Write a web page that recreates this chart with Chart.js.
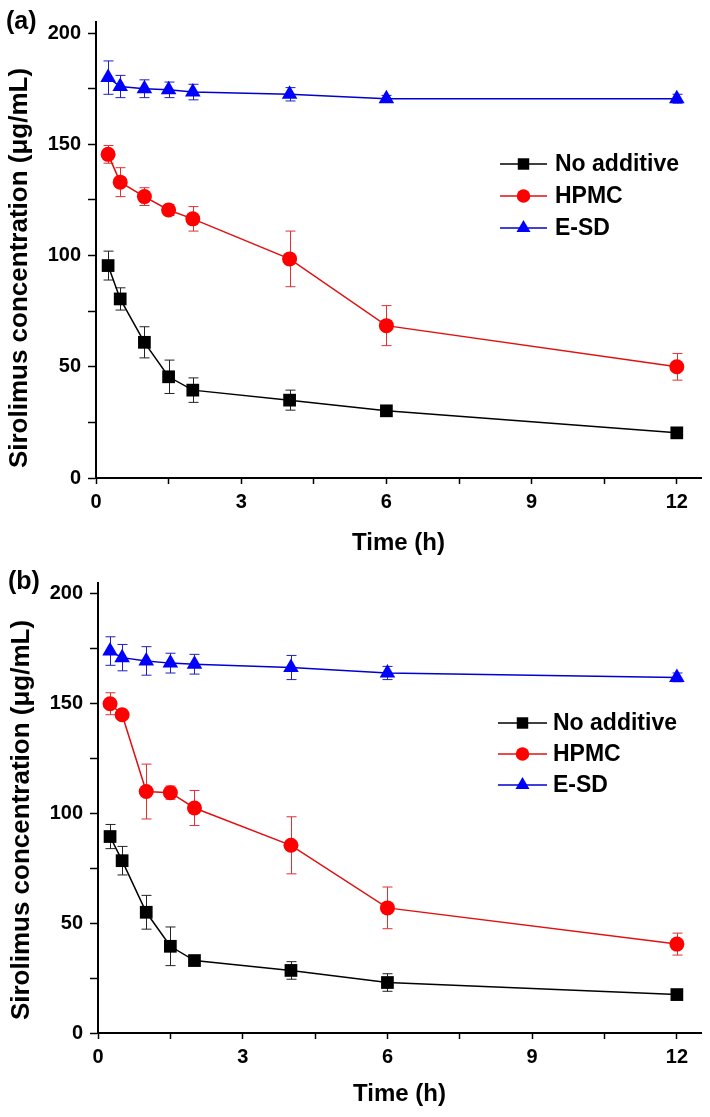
<!DOCTYPE html>
<html>
<head>
<meta charset="utf-8">
<script src="https://cdn.jsdelivr.net/npm/chart.js@4/dist/chart.umd.min.js"></script>
<style>
  html, body { margin:0; padding:0; background:#fff; }
  #wrap { position:relative; width:710px; height:1117px; }
  canvas { position:absolute; left:0; }
  #chartA { top:0; }
  #chartB { top:558px; }
</style>
</head>
<body>
<div id="wrap">
  <canvas id="chartA" width="710" height="558"></canvas>
  <canvas id="chartB" width="710" height="559"></canvas>
</div>
<script>
// sampling times (h)
const times = [0.25, 0.5, 1, 1.5, 2, 4, 6, 12];
const seriesNames = ['No additive', 'HPMC', 'E-SD'];
const xTicks = [0, 3, 6, 9, 12];
const yTicks = [0, 50, 100, 150, 200];

// panel (a)
const noAddA  = [95.5, 80.5, 61, 45.5, 39.5, 35, 30.2, 20.3];
const noAddErrA = [6.5, 5, 7, 7.5, 5.5, 4.5, 2, 1];
const hpmcA   = [145.5, 133, 126.5, 120.5, 116.5, 98.5, 68.5, 50];
const hpmcErrA  = [4, 6.5, 4, 2.5, 5.5, 12.5, 9, 6];
const esdA    = [180, 176, 175, 174.5, 173.5, 172.5, 170.5, 170.5];
const esdErrA   = [7.5, 5, 4, 3.5, 3.5, 3, 1.5, 2];

// panel (b)
const noAddB  = [89.5, 78.5, 55, 39.5, 33, 28.5, 23, 17.5];
const noAddErrB = [5.5, 6.5, 7.7, 8.8, 1.5, 4, 4, 1];
const hpmcB   = [150, 145, 110, 109.5, 102.5, 85.5, 57, 40.5];
const hpmcErrB  = [5, 1, 12.5, 3, 8, 13, 9.5, 5];
const esdB    = [174, 171, 169.5, 168.5, 168, 166.5, 164, 162];
const esdErrB   = [6.5, 6, 6.5, 4.5, 4.5, 5.5, 3, 2];

const FONT = '"Liberation Sans", Arial, sans-serif';
const styles = [
  {color:'#000000', line:'#000000', err:'#222222', point:'rect', radius:9},
  {color:'#ff0000', line:'#e01010', err:'#e03030', point:'circle', radius:7.5},
  {color:'#0000ff', line:'#0000d0', err:'#2020c0', point:'triangle', radius:9}
];

function pts(vals){ return times.map((t,i)=>({x:t, y:vals[i]})); }

// ----- error bars -----
const errorBars = {
  id:'errorBars',
  beforeDatasetsDraw(chart){
    const {ctx, scales:{x, y}} = chart;
    chart.data.datasets.forEach(ds=>{
      ctx.save();
      ctx.strokeStyle = ds.errColor;
      ctx.lineWidth = 1;
      ds.data.forEach((p,j)=>{
        const e = ds.errors[j];
        const px = Math.round(x.getPixelForValue(p.x)) + 0.5;
        const top = y.getPixelForValue(p.y + e);
        const bot = y.getPixelForValue(p.y - e);
        ctx.beginPath();
        ctx.moveTo(px, top); ctx.lineTo(px, bot);
        ctx.moveTo(px-5, top); ctx.lineTo(px+5, top);
        ctx.moveTo(px-5, bot); ctx.lineTo(px+5, bot);
        ctx.stroke();
      });
      ctx.restore();
    });
  }
};

// ----- panel letter, y title, legend -----
const decorations = {
  id:'decorations',
  afterDraw(chart, args, opts){
    const ctx = chart.ctx;
    ctx.save();
    ctx.fillStyle = '#000';
    ctx.font = 'bold 25px ' + FONT;
    ctx.textAlign = 'left';
    ctx.textBaseline = 'middle';
    ctx.fillText(opts.letter, opts.letterX, opts.letterY);

    ctx.save();
    ctx.translate(opts.yTitleX, opts.yTitleY);
    ctx.rotate(-Math.PI/2);
    ctx.textAlign = 'center';
    ctx.font = 'bold 26px ' + FONT;
    ctx.fillText('Sirolimus concentration (\u03bcg/mL)', 0, 0);
    ctx.restore();

    ctx.font = 'bold 23px ' + FONT;
    chart.data.datasets.forEach((ds,i)=>{
      const yy = opts.legY + i*opts.legGap;
      ctx.strokeStyle = ds.borderColor;
      ctx.lineWidth = 1.5;
      ctx.beginPath();
      ctx.moveTo(opts.legX0, yy); ctx.lineTo(opts.legX1, yy);
      ctx.stroke();
      ctx.fillStyle = ds.pointBackgroundColor;
      const mx = (opts.legX0 + opts.legX1)/2;
      if (Chart.helpers && Chart.helpers.drawPoint) {
        Chart.helpers.drawPoint(ctx, {pointStyle:ds.pointStyle, radius:ds.pointRadius*0.9, rotation:0, borderWidth:0}, mx, yy);
      }
      ctx.fillStyle = '#000';
      ctx.fillText(ds.label, opts.legText, yy + 1);
    });
    ctx.restore();
  }
};

function makePanel(id, sets, box){
  const datasets = sets.map((s,i)=>({
    label: seriesNames[i],
    data: pts(s.vals),
    errors: s.errs,
    errColor: styles[i].err,
    borderColor: styles[i].line,
    borderWidth: 1.5,
    pointStyle: styles[i].point,
    pointRadius: styles[i].radius,
    pointBackgroundColor: styles[i].color,
    pointBorderWidth: 0,
    fill: false,
    tension: 0,
    clip: false
  }));
  const axisCommon = {
    border:{display:true, color:'#000', width:2},
    grid:{display:true, drawOnChartArea:false, drawTicks:true, tickColor:'#000', tickWidth:1.5},
    ticks:{color:'#000', font:{family:FONT, size:20, weight:'bold'}, includeBounds:false}
  };
  return new Chart(document.getElementById(id), {
    type:'line',
    data:{datasets},
    options:{
      responsive:false,
      animation:false,
      layout:{padding:{left:0, top:box.top, right:box.right, bottom:0}},
      plugins:{
        legend:{display:false},
        tooltip:{enabled:false},
        decorations: box.deco
      },
      scales:{
        x:{
          type:'linear', min:0, max:12.5,
          border:axisCommon.border,
          grid:Object.assign({}, axisCommon.grid, {tickLength:6}),
          ticks:Object.assign({}, axisCommon.ticks, {
            stepSize:1.5, padding:6, maxRotation:0,
            callback:v=> xTicks.includes(v) ? String(v) : ''
          }),
          title:{display:true, text:'Time (h)', color:'#000',
                 font:{family:FONT, size:24, weight:'bold'},
                 padding:{top:0, bottom:box.xTitlePad}},
          afterFit:s=>{ s.height = box.xHeight; }
        },
        y:{
          type:'linear', min:0, max:205,
          border:axisCommon.border,
          grid:Object.assign({}, axisCommon.grid, {tickLength:8}),
          ticks:Object.assign({}, axisCommon.ticks, {
            stepSize:25, padding:7,
            callback:v=> yTicks.includes(v) ? String(v) : ''
          }),
          afterFit:s=>{ s.width = box.yWidth; }
        }
      }
    },
    plugins:[errorBars, decorations]
  });
}

makePanel('chartA', [
  {vals:noAddA, errs:noAddErrA},
  {vals:hpmcA, errs:hpmcErrA},
  {vals:esdA, errs:esdErrA}
], {
  top:22, right:2, yWidth:96, xHeight:80, xTitlePad:0,
  deco:{letter:'(a)', letterX:6, letterY:22, yTitleX:20, yTitleY:268,
        legX0:500, legX1:547, legText:555, legY:164, legGap:32}
});

makePanel('chartB', [
  {vals:noAddB, errs:noAddErrB},
  {vals:hpmcB, errs:hpmcErrB},
  {vals:esdB, errs:esdErrB}
], {
  top:25, right:6, yWidth:98, xHeight:84, xTitlePad:8,
  deco:{letter:'(b)', letterX:8, letterY:24, yTitleX:22, yTitleY:262,
        legX0:498, legX1:547, legText:553, legY:165, legGap:31}
});
</script>
</body>
</html>
